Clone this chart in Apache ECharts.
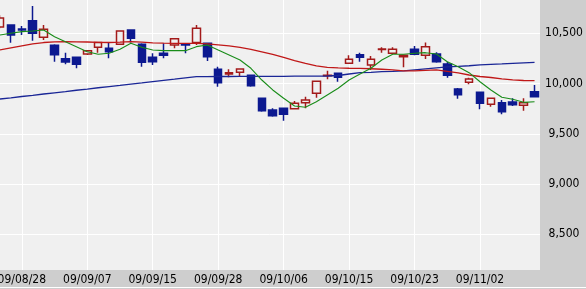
<!DOCTYPE html>
<html>
<head>
<meta charset="utf-8">
<script src="https://cdn.jsdelivr.net/npm/echarts@6/dist/echarts.min.js"></script>
<style>html,body{margin:0;padding:0;background:#cecece;}#c{width:586px;height:289px;}</style>
</head>
<body>
<div id="c"></div>
<script>
const dates = ['09/08/26','09/08/27','09/08/28','09/08/31','09/09/01','09/09/02','09/09/03','09/09/04','09/09/07','09/09/08',
'09/09/09','09/09/10','09/09/11','09/09/14','09/09/15','09/09/16','09/09/17','09/09/18','09/09/24','09/09/25',
'09/09/28','09/09/29','09/09/30','09/10/01','09/10/02','09/10/05','09/10/06','09/10/07','09/10/08','09/10/09',
'09/10/13','09/10/14','09/10/15','09/10/16','09/10/19','09/10/20','09/10/21','09/10/22','09/10/23','09/10/26',
'09/10/27','09/10/28','09/10/29','09/10/30','09/11/02','09/11/04','09/11/05','09/11/06','09/11/09','09/11/10'];
const labelDates = ['09/08/28','09/09/07','09/09/15','09/09/28','09/10/06','09/10/15','09/10/23','09/11/02'];
const opens  = [10563,10582,10543,10625,10460,10380,10247,10261,10294,10361,10351,10390,10533,10390,10261,10301,10384,10394,10407,10400,
10142,10095,10112,10082,9853,9737,9754,9750,9809,9903,10077,10102,10201,10287,10184,10339,10301,10267,10341,10281,
10294,10195,9946,10012,9913,9794,9810,9816,9784,9919];
const closes = [10652,10483,10533,10500,10540,10287,10214,10192,10327,10407,10317,10523,10450,10211,10217,10281,10446,10384,10550,10267,
10008,10108,10145,9979,9730,9680,9694,9803,9836,10022,10082,10062,10241,10261,10241,10344,10341,10281,10291,10367,
10217,10082,9889,10045,9803,9853,9720,9790,9810,9869];
const lows   = [10550,10406,10483,10426,10433,10217,10192,10152,10284,10307,10251,10385,10407,10167,10184,10251,10351,10301,10384,10224,
9969,10062,10068,9969,9720,9670,9630,9750,9754,9859,10042,10018,10201,10217,10135,10307,10301,10162,10281,10244,
10207,10058,9849,9993,9744,9770,9694,9777,9730,9869];
const highs  = [10680,10590,10573,10772,10582,10390,10307,10265,10334,10414,10407,10528,10538,10400,10301,10400,10450,10400,10582,10405,
10168,10142,10148,10085,9858,9754,9758,9826,9869,10025,10128,10105,10281,10307,10274,10361,10361,10284,10374,10407,
10311,10217,9956,10058,9918,9856,9836,9853,9853,9986];
const maShort = [10483,10500,10516,10523,10533,10466,10416,10367,10317,10291,10301,10341,10400,10361,10334,10327,10327,10327,10367,10384,
10334,10284,10234,10152,10035,9936,9853,9777,9764,9819,9886,9953,10035,10095,10152,10234,10291,10291,10301,10307,
10294,10217,10168,10108,10018,9936,9863,9843,9813,9819];
const maMid = [10334,10354,10374,10394,10408,10415,10416,10415,10413,10410,10408,10411,10416,10411,10405,10401,10400,10400,10400,10395,
10385,10374,10359,10339,10314,10289,10259,10229,10200,10175,10160,10155,10152,10150,10147,10142,10135,10125,10125,10130,
10135,10120,10105,10085,10070,10060,10047,10037,10030,10028];
const maLong = [9846,9858,9871,9883,9896,9908,9920,9933,9945,9958,9970,9982,9995,10006,10019,10031,10043,10056,10068,10068,
10070,10070,10071,10071,10072,10072,10072,10073,10073,10074,10075,10080,10095,10108,10112,10118,10120,10125,10135,10145,
10155,10165,10170,10177,10185,10190,10195,10201,10206,10211];

const ohlc = dates.map((d, i) => [opens[i], closes[i], lows[i], highs[i]]);
const isLabel = (i) => labelDates.indexOf(dates[i]) >= 0;
const font = '"Liberation Sans Narrow","DejaVu Sans Condensed","Liberation Sans",sans-serif';

const chart = echarts.init(document.getElementById('c'), null, {renderer: 'canvas'});
chart.setOption({
  animation: false,
  backgroundColor: '#cecece',
  graphic: [{type: 'rect', shape: {x: 0, y: 287, width: 586, height: 1}, style: {fill: '#ffffff'}, silent: true}],
  grid: {left: -5.45, right: 46, top: 0, bottom: 19, show: true, backgroundColor: '#f0f0f0', borderWidth: 0,
         containLabel: false, outerBoundsMode: 'none'},
  xAxis: {
    type: 'category', data: dates, boundaryGap: true,
    axisLine: {show: false}, axisTick: {show: false},
    axisLabel: {interval: (i) => isLabel(i), color: '#000', fontSize: 12, fontFamily: font, margin: 4},
    splitLine: {show: true, interval: (i) => isLabel(i), alignWithLabel: true, lineStyle: {color: '#ffffff', width: 1}}
  },
  yAxis: {
    type: 'value', position: 'right', min: 8145, max: 10831, splitNumber: 5, scale: true,
    axisLine: {show: false}, axisTick: {show: false},
    axisLabel: {color: '#000', fontSize: 12, fontFamily: font, align: 'center', margin: 24,
      showMinLabel: false, showMaxLabel: false,
      formatter: (v) => (v % 500 === 0 ? v.toLocaleString('en-US') : '')},
    splitLine: {show: true, showMinLine: false, showMaxLine: false, lineStyle: {color: '#ffffff', width: 1}}
  },
  series: [
    {type: 'candlestick', data: ohlc, barWidth: 8,
     itemStyle: {color: '#f0f0f0', color0: '#0c1990', borderColor: '#a31a1a', borderColor0: '#0c1990', borderWidth: 1.5}},
    {type: 'line', data: maLong, showSymbol: false, lineStyle: {color: '#1a2696', width: 1.3}, z: 3},
    {type: 'line', data: maMid, showSymbol: false, lineStyle: {color: '#c01818', width: 1.3}, z: 3},
    {type: 'line', data: maShort, showSymbol: false, lineStyle: {color: '#198c19', width: 1.1}, z: 3}
  ]
});
</script>
</body>
</html>
